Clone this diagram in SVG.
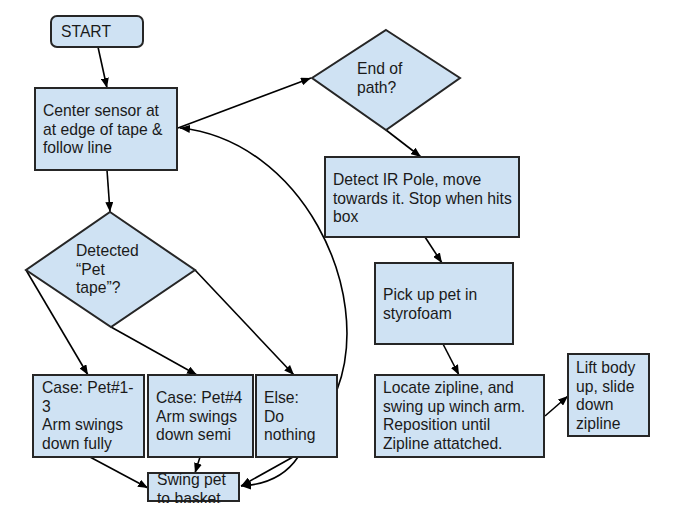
<svg xmlns="http://www.w3.org/2000/svg" width="681" height="507" viewBox="0 0 681 507">
<style>
.box{fill:#cfe2f3;stroke:#262626;stroke-width:2}
.t{font-family:"Liberation Sans",Arial,sans-serif;font-size:15.7px;fill:#1a1a1a}
.c{fill:none;stroke:#000;stroke-width:1.6;marker-end:url(#ah)}
</style>
<defs>
<marker id="ah" viewBox="0 0 10 8" refX="10" refY="4" markerWidth="10" markerHeight="8" orient="auto" markerUnits="userSpaceOnUse"><path d="M0,0 L10,4 L0,8 z" fill="#000"/></marker>
<clipPath id="swclip"><rect x="148" y="473" width="92" height="30"/></clipPath>
</defs>
<rect width="681" height="507" fill="#fff"/>
<g id="connectors">
<path class="c" d="M98,47 L107,88"/>
<path class="c" d="M178,128 L311,78"/>
<path class="c" d="M386,130 L421,157"/>
<path class="c" d="M425,237 L442,263"/>
<path class="c" d="M443,344 L459,375"/>
<path class="c" d="M545,416 L568,396"/>
<path class="c" d="M107,170 L110,212"/>
<path class="c" d="M26,270 L88,375"/>
<path class="c" d="M111,327 L197,375"/>
<path class="c" d="M195,270 L294,375"/>
<path class="c" d="M90,457 L148,488"/>
<path class="c" d="M200,457 L195,473"/>
<path class="c" d="M293,457 L241,486"/>
<path class="c" d="M298,457 Q280,484 241,486"/>
<path class="c" d="M337,390 C375,290 300,140 180,128"/>
</g>
<g id="start">
<rect class="box" x="51" y="16" width="92" height="31" rx="6"/>
<text class="t" x="61" y="37">START</text>
</g>
<g id="center">
<rect class="box" x="35" y="88" width="142" height="82"/>
<text class="t" x="43" y="116">Center sensor at</text>
<text class="t" x="43" y="134.5">at edge of tape &amp;</text>
<text class="t" x="43" y="153">follow line</text>
</g>
<g id="endpath">
<polygon class="box" points="386,30 460,78 386,130 312,78"/>
<text class="t" x="357" y="74">End of</text>
<text class="t" x="357" y="93">path?</text>
</g>
<g id="detect">
<rect class="box" x="325" y="157" width="194" height="80"/>
<text class="t" x="333" y="185">Detect IR Pole, move</text>
<text class="t" x="333" y="203.5">towards it. Stop when hits</text>
<text class="t" x="333" y="222">box</text>
</g>
<g id="pickup">
<rect class="box" x="375" y="263" width="138" height="81"/>
<text class="t" x="383" y="300">Pick up pet in</text>
<text class="t" x="383" y="318.5">styrofoam</text>
</g>
<g id="locate">
<rect class="box" x="375" y="375" width="169" height="82"/>
<text class="t" x="383" y="393">Locate zipline, and</text>
<text class="t" x="383" y="411.5">swing up winch arm.</text>
<text class="t" x="383" y="430">Reposition until</text>
<text class="t" x="383" y="448.5">Zipline attatched.</text>
</g>
<g id="lift">
<rect class="box" x="568" y="354" width="81" height="82"/>
<text class="t" x="576" y="373">Lift body</text>
<text class="t" x="576" y="391.5">up, slide</text>
<text class="t" x="576" y="410">down</text>
<text class="t" x="576" y="428.5">zipline</text>
</g>
<g id="detected">
<polygon class="box" points="110,212 195,270 111,327 26,270"/>
<text class="t" x="76" y="256">Detected</text>
<text class="t" x="76" y="274.5">“Pet</text>
<text class="t" x="76" y="293">tape”?</text>
</g>
<g id="case1">
<rect class="box" x="33" y="375" width="111" height="82"/>
<text class="t" x="42" y="393">Case: Pet#1-</text>
<text class="t" x="42" y="411.5">3</text>
<text class="t" x="42" y="430">Arm swings</text>
<text class="t" x="42" y="448.5">down fully</text>
</g>
<g id="case4">
<rect class="box" x="148" y="375" width="105" height="82"/>
<text class="t" x="156" y="403">Case: Pet#4</text>
<text class="t" x="156" y="421.5">Arm swings</text>
<text class="t" x="156" y="440">down semi</text>
</g>
<g id="else">
<rect class="box" x="256" y="375" width="81" height="82"/>
<text class="t" x="264" y="403">Else:</text>
<text class="t" x="264" y="421.5">Do</text>
<text class="t" x="264" y="440">nothing</text>
</g>
<g id="swing">
<rect class="box" x="148" y="473" width="91" height="28"/>
<g clip-path="url(#swclip)">
<text class="t" x="157" y="485">Swing pet</text>
<text class="t" x="157" y="503.5">to basket</text>
</g>
</g>
</svg>
